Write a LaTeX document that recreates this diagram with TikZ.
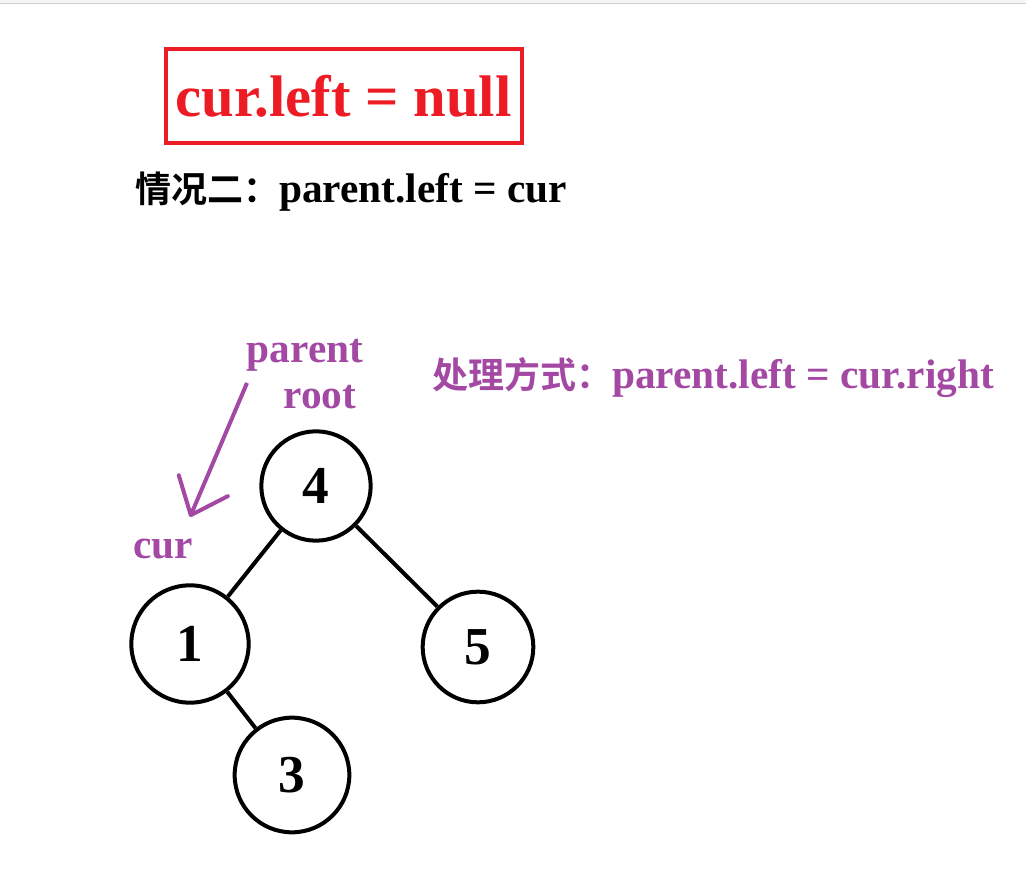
\documentclass[tikz,border=0pt]{standalone}
\usepackage{fontspec}
\setmainfont{Liberation Serif}
\newfontfamily\cjk{Noto Sans CJK SC}[BoldFont={* Bold}]
\usetikzlibrary{arrows.meta}
\definecolor{paintred}{HTML}{ED1C24}
\definecolor{paintpurple}{HTML}{A349A4}
\newcommand{\latinsize}{\fontsize{31}{36}\selectfont}
\newcommand{\cjksize}{\fontsize{27}{32}\selectfont}

\begin{document}
\begin{tikzpicture}[x=0.75pt,y=-0.75pt,
	tnode/.style={draw,circle,line width=3pt,inner sep=0pt,font=\fontsize{40}{44}\selectfont\bfseries},
	tedge/.style={line width=3pt},
	lbl/.style={inner sep=0pt,font=\latinsize\bfseries}]
	\useasboundingbox (0,0) rectangle (1026,873);
	\fill[gray!8] (0,0) rectangle (1026,3);
	\draw[gray!35,line width=0.8pt] (0,3.5) -- (1026,3.5);

	% heading
	\node[draw=paintred,line width=3pt,text=paintred,minimum width=267pt,minimum height=70pt,
		font=\fontsize{44}{50}\selectfont\bfseries] (title) at (343.5,96) {cur.left = null};
	\node[lbl,anchor=west] (case) at (135,192) {{\cjk\cjksize\bfseries 情况二：}parent.left = cur};

	% tree
	\node[tnode,minimum size=82pt] (n4) at (316,486) {4};
	\node[tnode,minimum size=88pt] (n1) at (190,644) {1};
	\node[tnode,minimum size=83pt] (n5) at (478,647) {5};
	\node[tnode,minimum size=86pt] (n3) at (292,775) {3};
	\draw[tedge] (n4) -- (n1);
	\draw[tedge] (n4) -- (n5);
	\draw[tedge] (n1) -- (n3);

	% pointers
	\node[lbl,text=paintpurple] (parent) at (305,355) {parent};
	\node[lbl,text=paintpurple] (root) at (320,397) {root};
	\node[lbl,text=paintpurple] (cur) at (163,549) {cur};
	\coordinate (pfrom) at (247,383);
	\coordinate (pto) at (190,517);
	\draw[paintpurple,line width=3pt,-{Straight Barb[length=24pt,width=40pt,round]}] (pfrom) -- (pto);

	\node[lbl,text=paintpurple,anchor=west] (fix) at (432,378) {{\cjk\cjksize\bfseries 处理方式：}parent.left = cur.right};
\end{tikzpicture}
\end{document}
